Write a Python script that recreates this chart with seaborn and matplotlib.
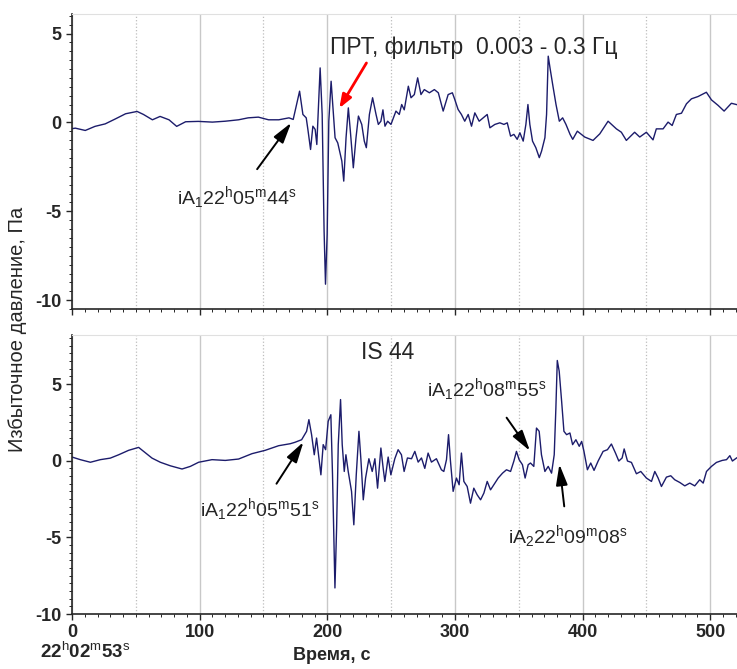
import matplotlib
matplotlib.use("Agg")
import matplotlib.pyplot as plt
import seaborn as sns
import numpy as np
import pandas as pd
from matplotlib.ticker import MultipleLocator

# ПРТ, фильтр 0.003 - 0.3 Гц (верхняя панель)
top_t = [0, 2.6, 10.4, 18, 26, 34, 42, 51, 56, 63, 69, 76, 82, 89, 99, 110, 120, 130.5, 138, 146, 154, 162, 170,
         173.3, 178.3, 180.9, 183.5, 184.8, 186.9, 188.7, 190.5, 191.8, 194.4, 196, 197.5, 198.6, 199.9, 201.2,
         203, 204.6, 206.1, 208.2, 211.4, 212.9, 214.7, 216.5, 218.1, 220.4, 222.5, 224.4, 227, 229, 230.6, 233,
         235.5, 238.2, 240, 242, 243.6, 245.2, 247.3, 249.9, 253.8, 256.4, 258.3, 260.3, 263.5, 265.6, 268.2,
         270.8, 273.4, 276, 280, 283.9, 287, 290.8, 294.7, 298, 299.9, 302.5, 305.1, 307.7, 310.4, 313, 315.6,
         319, 322.1, 325.3, 327.4, 331.3, 335.2, 338.4, 341, 343.6, 346.2, 348.8, 350.9, 353.5, 355.6, 357.2,
         358.7, 360.8, 363.4, 366.1, 367.9, 370.5, 371.8, 373.1, 374.5, 376.6, 379.2, 381.8, 384.4, 387, 390.2,
         392.3, 395.9, 401.7, 408.2, 413.5, 420, 426.5, 430.4, 434.3, 440.8, 444.8, 450, 455.2, 457.8, 463.1,
         467, 470.2, 473.5, 477.5, 481.4, 485.3, 490.5, 497, 501, 506.2, 510.9, 516.6, 521]
top_p = [-0.35, -0.32, -0.45, -0.22, -0.08, 0.2, 0.49, 0.62, 0.45, 0.15, 0.34, 0.15, -0.22, 0.04, 0.06, 0.02, 0.07,
         0.15, 0.26, 0.30, 0.15, 0.15, 0.26,
         0.17, 1.76, 0.45, 0.26, -0.39, -1.52, -0.21, -0.39, -1.24, 3.07, 0.45, -6.1, -9.1, -6.3, 0.07,
         2.32, 0.64, -0.86, -1.15, -2.17, -3.3, -0.86, 0.82, -0.51, -2.55, -0.86, 0.36, -0.11, -1.05, -1.42, 0.45,
         1.39, 0.45, -0.11, 0.07, 0.71, -0.21, 0.07, -0.11, 0.64, 0.45, 1.01, 0.71, 2.04, 1.39, 1.57,
         2.51, 1.57, 1.85, 1.67, 1.85, 1.67, 0.64, 1.57, 1.67, 1.29, 0.73, 0.45, 0.07, 0.45, -0.21, 0.54,
         0.07, 0.26, 0.45, -0.30, -0.11, -0.02, -0.11, -0.02, -0.77, -0.67, -0.95, -0.58, -1.05, -0.11, 1.01,
         -0.11, -1.05, -1.42, -1.98, -1.61, -0.86, 0.45, 3.73, 3.07, 2.13, 1.01, 0.07, 0.26, -0.11, -0.67,
         -0.95, -0.49, -0.82, -1.01, -0.64, 0.07, -0.36, -0.55, -1.01, -0.55, -0.82, -0.55, -0.98, -0.36, -0.36,
         0.02, -0.17, 0.45, 0.52, 1.05, 1.33, 1.46, 1.70, 1.27, 0.96, 0.64, 1.08, 1.0]

# IS 44 (нижняя панель)
bot_t = [0, 6.5, 14.4, 22.2, 30, 36.6, 44.4, 52.2, 56.1, 62.7, 69.2, 77, 86.2, 92.7, 99.2, 109.7, 120.1, 130.5,
         141, 151.4, 161.9, 171, 174.6, 179.9, 183.8, 185.6, 187.7, 189.8, 191.6, 193.4, 195, 196.8, 198.7,
         200.7, 202.8, 204.1, 206, 207.3, 208.6, 210.4, 211.7, 213.3, 214.6, 216.4, 219, 220.8, 222.7, 224.8,
         226.3, 228.2, 230, 232.6, 235.2, 237.3, 239.4, 242, 243.8, 245.1, 247.7, 249.8, 252.9, 255.5, 258.1,
         260.2, 262.8, 266, 268.6, 271.2, 273.8, 276.4, 279, 281.6, 285.5, 289.4, 291.3, 293.4, 295, 296.5,
         298.6, 301.2, 303.3, 305.1, 307, 309.6, 312.2, 314.8, 317.4, 320.1, 322.7, 325.3, 327.9, 330.5, 333.9,
         337.3, 340.4, 343.6, 346.2, 348.2, 350.3, 352.9, 355, 357.4, 359.2, 361.8, 363.9, 366, 367.8, 370.5,
         373.1, 375.7, 377.8, 379.1, 380.2, 381.7, 383.6, 385.4, 387.5, 390.1, 392.2, 394.8, 397.4, 399.3,
         401.1, 403.8, 406.4, 409, 412.2, 416.1, 419.5, 422.6, 425.8, 428.4, 431, 432.6, 435.2, 438.3, 442.2,
         445.6, 450, 454, 456.6, 459.2, 461.8, 465.7, 469.1, 472.2, 476.2, 480.1, 484, 487.9, 491.8, 494.5,
         497.1, 501, 504.9, 509.4, 512.8, 515.4, 517.4, 521]
bot_p = [0.24, 0.07, -0.10, 0.07, 0.17, 0.39, 0.68, 0.87, 0.61, 0.17, -0.10, -0.33, -0.54, -0.37, -0.10, 0.07, 0.02,
         0.11, 0.46, 0.68, 0.98, 1.11, 1.2, 1.37, 1.92, 2.68, 1.70, 0.39, 1.48, 0.18, -0.92, 1.05, 0.72,
         2.57, 3.0, -0.92, -8.3, -4.4, 1.05, 3.99, 1.05, -0.70, 0.39, -0.70, -2.0, -4.18, -0.92, 1.92,
         0.13, -2.55, -1.13, 0.13, -0.70, 0.13, -1.79, 0.83, -0.50, -1.35, 0.24, -0.92, 0.13, 0.72, 0.39,
         -0.70, 0.18, 0.13, 0.61, -0.09, 0.18, -0.50, 0.50, -0.09, 0.13, -0.59, -0.70, 0.07, 1.70, -0.02,
         -2.0, -1.13, -1.57, 0.50, -1.35, -1.68, -2.77, -1.79, -2.22, -2.55, -2.11, -1.35, -1.90, -1.57, -1.13,
         -0.81, -0.59, -0.70, -0.02, 0.61, 0.07, -0.26, -1.13, -0.26, -0.15, -0.37, 2.13, 1.92, 0.39, -0.70,
         -0.37, -0.81, 0.39, 3.44, 6.54, 5.84, 3.88, 1.92, 1.70, 1.81, 1.05, 1.37, 0.94, 1.26,
         0.61, -0.59, -0.15, -0.63, -0.02, 0.61, 0.72, 1.09, 0.50, -0.02, 0.18, 0.77, -0.02, -0.11, -0.85,
         -0.70, -1.13, -1.35, -0.70, -1.13, -1.68, -1.07, -0.98, -1.24, -1.42, -1.64, -1.46, -1.64, -1.24, -1.46,
         -0.70, -0.37, -0.11, 0.02, 0.07, 0.33, -0.02, 0.2]

sns.set_style("ticks")
plt.rcParams['font.family'] = ['Liberation Sans', 'DejaVu Sans']
plt.rcParams['mathtext.fontset'] = 'custom'
plt.rcParams['mathtext.rm'] = 'Liberation Sans'
plt.rcParams['mathtext.it'] = 'Liberation Sans:italic'
plt.rcParams['axes.unicode_minus'] = False

line_color = '#1c1c6b'

fig = plt.figure(figsize=(7.37, 6.69), dpi=100)
ax1 = fig.add_axes([0.0977, 0.538, 0.9023, 0.441])
ax2 = fig.add_axes([0.0977, 0.0822, 0.9023, 0.417])

df_top = pd.DataFrame({'t': top_t, 'p': top_p})
df_bot = pd.DataFrame({'t': bot_t, 'p': bot_p})
sns.lineplot(data=df_top, x='t', y='p', ax=ax1, color=line_color, lw=1.0, estimator=None)
sns.lineplot(data=df_bot, x='t', y='p', ax=ax2, color=line_color, lw=1.0, estimator=None)

ax1.set_ylim(-10.5, 6.1)
ax2.set_ylim(-10, 8.2)

for ax in (ax1, ax2):
    ax.set_xlim(0, 521)
    ax.xaxis.set_major_locator(MultipleLocator(100))
    ax.xaxis.set_minor_locator(MultipleLocator(10))
    ax.yaxis.set_major_locator(MultipleLocator(5))
    ax.yaxis.set_minor_locator(MultipleLocator(0.5))
    ax.grid(axis='x', which='major', color='#c8c8c8', lw=1.0)
    for xg in np.arange(50, 521, 100):
        ax.axvline(xg, color='#bdbdbd', lw=0.9, ls=':', zorder=0)
    ax.set_xlabel('')
    ax.set_ylabel('')
    ax.spines['right'].set_visible(False)
    ax.spines['top'].set_color('#e0e0e0')
    ax.spines['left'].set_linewidth(1.2)
    ax.spines['bottom'].set_linewidth(1.2)
    ax.tick_params(which='major', length=4, width=1.0, labelsize=13)
    ax.tick_params(which='minor', length=2, width=0.7)

ax1.tick_params(axis='x', labelbottom=False)
for ax in (ax1, ax2):
    plt.setp(ax.get_yticklabels(), fontweight='bold')
    plt.setp(ax.get_xticklabels(), fontweight='bold')

ax2.set_xlabel('Время, с', fontsize=13, fontweight='bold')
ax2.xaxis.set_label_coords((332 - 72) / 665, -0.118)
fig.text(0.024, 0.507, 'Избыточное давление, Па', rotation=90, ha='center', va='center',
         fontsize=14.5)
ax2.annotate(r'22$^\mathrm{h}$02$^\mathrm{m}$53$^\mathrm{s}$', xy=(10, -0.135),
             xycoords=('data', 'axes fraction'), ha='center', va='center',
             fontsize=13.5, fontweight='bold', annotation_clip=False)

# подписи и стрелки
ax1.text(202, 4.2, 'ПРТ, фильтр  0.003 - 0.3 Гц', fontsize=16.5, ha='left', va='center')
ax1.annotate('', xy=(208.3, 0.67), xytext=(231.8, 3.48),
             arrowprops=dict(arrowstyle='-|>,head_length=0.8,head_width=0.3', color='red', lw=2))
ax1.annotate(r'iA$_\mathrm{1}$22$^\mathrm{h}$05$^\mathrm{m}$44$^\mathrm{s}$', xy=(173, 0.11),
             xytext=(129, -4.2), fontsize=14, ha='center', va='center',
             arrowprops=dict(arrowstyle='-|>,head_length=0.9,head_width=0.25', color='black', lw=1.4,
                             shrinkA=10))

ax2.text(247.5, 7.06, 'IS 44', fontsize=16.5, ha='center', va='center')
ax2.annotate(r'iA$_\mathrm{1}$22$^\mathrm{h}$05$^\mathrm{m}$51$^\mathrm{s}$', xy=(182.5, 1.37),
             xytext=(147, -3.2), fontsize=14, ha='center', va='center',
             arrowprops=dict(arrowstyle='-|>,head_length=0.9,head_width=0.25', color='black', lw=1.4,
                             shrinkA=8))
ax2.annotate(r'iA$_\mathrm{1}$22$^\mathrm{h}$08$^\mathrm{m}$55$^\mathrm{s}$', xy=(360, 0.5),
             xytext=(325, 4.64), fontsize=14, ha='center', va='center',
             arrowprops=dict(arrowstyle='-|>,head_length=0.9,head_width=0.25', color='black', lw=1.4,
                             shrinkA=10))
ax2.annotate(r'iA$_\mathrm{2}$22$^\mathrm{h}$09$^\mathrm{m}$08$^\mathrm{s}$', xy=(381.6, -0.05),
             xytext=(388.4, -4.97), fontsize=14, ha='center', va='center',
             arrowprops=dict(arrowstyle='-|>,head_length=0.9,head_width=0.25', color='black', lw=1.4,
                             shrinkA=10))

fig.savefig('out.png', dpi=100, facecolor='white')
